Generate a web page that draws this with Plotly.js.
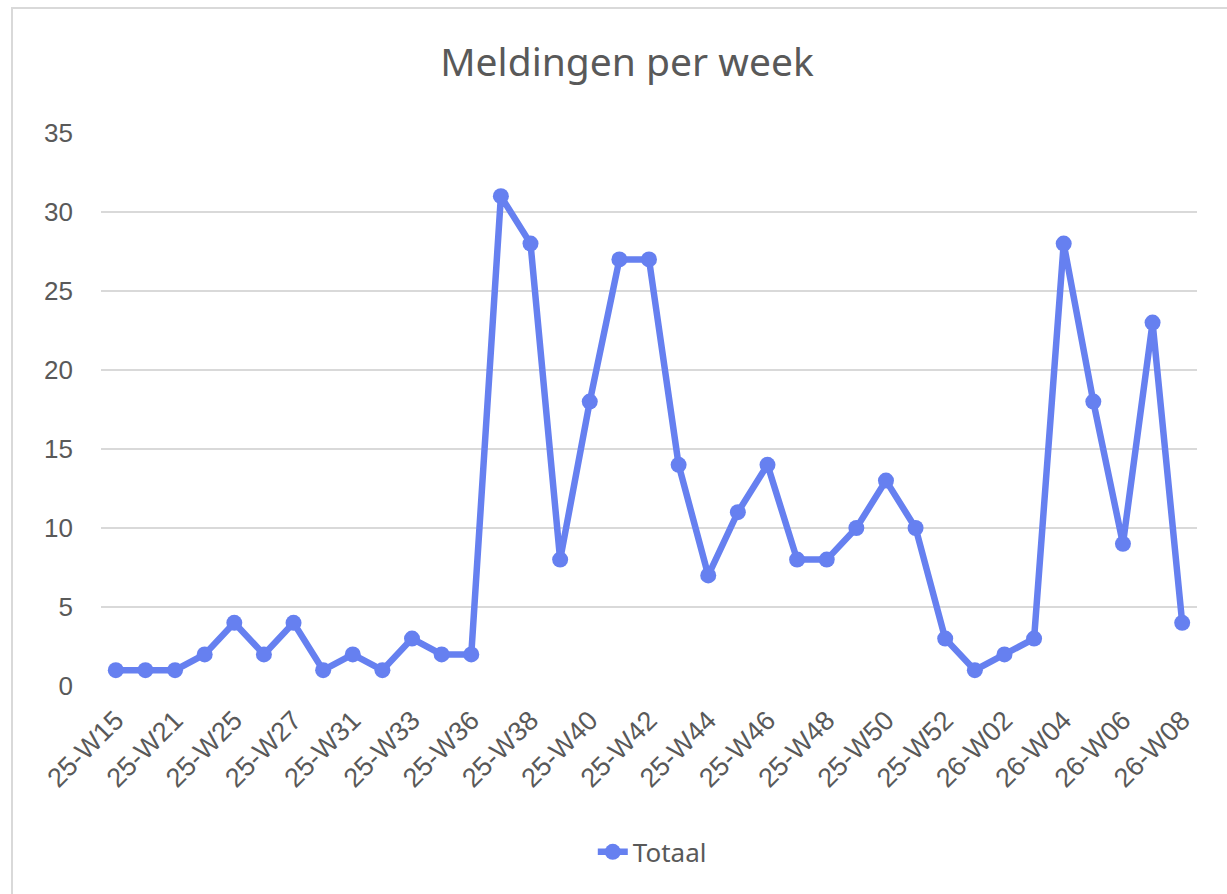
<!DOCTYPE html>
<html>
<head>
<meta charset="utf-8">
<script src="https://cdn.plot.ly/plotly-3.0.1.min.js"></script>
<style>
  html, body { margin: 0; padding: 0; background: #ffffff; }
  #wrap { position: relative; width: 1227px; height: 894px; overflow: hidden; }
  #chart { position: absolute; left: 0; top: 0; width: 1227px; height: 894px; }
  #frame { position: absolute; left: 11px; top: 7px; width: 1240px; height: 900px;
           border-left: 2px solid #d9d9d9; border-top: 2px solid #d9d9d9; pointer-events: none; }
</style>
</head>
<body>
<div id="wrap">
  <div id="chart"></div>
  <div id="frame"></div>
</div>
<script>
const categories = [
  "25-W15", "25-W19", "25-W21", "25-W24", "25-W25", "25-W26", "25-W27", "25-W30",
  "25-W31", "25-W32", "25-W33", "25-W35", "25-W36", "25-W37", "25-W38", "25-W39",
  "25-W40", "25-W41", "25-W42", "25-W43", "25-W44", "25-W45", "25-W46", "25-W47",
  "25-W48", "25-W49", "25-W50", "25-W51", "25-W52", "26-W01", "26-W02", "26-W03",
  "26-W04", "26-W05", "26-W06", "26-W07", "26-W08"
];
const totaal = [
  1, 1, 1, 2, 4, 2, 4, 1,
  2, 1, 3, 2, 2, 31, 28, 8,
  18, 27, 27, 14, 7, 11, 14, 8,
  8, 10, 13, 10, 3, 1, 2, 3,
  28, 18, 9, 23, 4
];
const seriesName = "Totaal";
const chartTitle = "Meldingen per week";
const yTicks = [0, 5, 10, 15, 20, 25, 30, 35];
const xTickLabels = categories.filter((c, i) => i % 2 === 0);

const lineColor = "#6680f0";
const textColor = "#595959";

const trace = {
  x: categories,
  y: totaal,
  type: "scatter",
  mode: "lines+markers",
  name: seriesName,
  line: { color: lineColor, width: 6.5 },
  marker: { color: lineColor, size: 16 },
  cliponaxis: false
};

const layout = {
  width: 1227,
  height: 894,
  margin: { l: 101, r: 30, t: 133, b: 208 },
  paper_bgcolor: "#ffffff",
  plot_bgcolor: "#ffffff",
  showlegend: true,
  title: {
    text: chartTitle,
    font: { family: "Noto Sans, Open Sans, sans-serif", size: 39, color: textColor },
    x: 627 / 1227, xanchor: "center",
    y: 0.93, yanchor: "middle",
    xref: "container"
  },
  xaxis: {
    type: "category",
    range: [-0.5, categories.length - 0.5],
    tickmode: "array",
    tickvals: xTickLabels,
    ticktext: xTickLabels,
    tickangle: -45,
    tickfont: { family: "Liberation Sans, Arial, sans-serif", size: 27, color: textColor },
    showgrid: false,
    zeroline: false,
    showline: false,
    ticks: "",
    ticklabelstandoff: 12
  },
  yaxis: {
    range: [0, 35],
    tickmode: "array",
    tickvals: yTicks,
    tickfont: { family: "Liberation Sans, Arial, sans-serif", size: 26, color: textColor },
    showgrid: true,
    gridcolor: "#d9d9d9",
    gridwidth: 2,
    zeroline: false,
    showline: false,
    ticks: "",
    ticklabelstandoff: 27
  },
  legend: {
    orientation: "h",
    x: 0.503, xanchor: "center",
    y: -0.30, yanchor: "middle",
    font: { family: "Noto Sans, Open Sans, sans-serif", size: 26, color: textColor },
    bgcolor: "rgba(0,0,0,0)"
  }
};

Plotly.newPlot("chart", [trace], layout, { displayModeBar: false, staticPlot: true });
</script>
</body>
</html>
